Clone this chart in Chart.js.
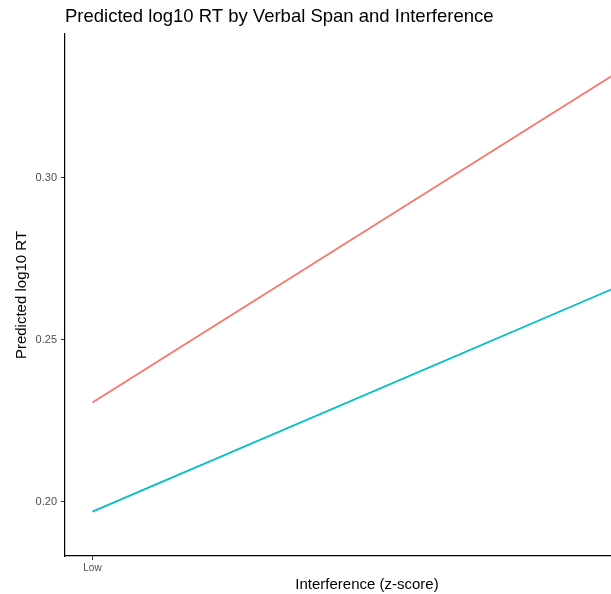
<!DOCTYPE html>
<html>
<head>
<meta charset="utf-8">
<script src="https://cdn.jsdelivr.net/npm/chart.js@4"></script>
<style>
    html, body { margin: 0; padding: 0; background: #fff; overflow: hidden; }
    /* the reference is cropped on the right, so the chart is wider than the window */
    #wrap { width: 680px; height: 594px; position: relative; }
</style>
</head>
<body>
<div id="wrap"><canvas id="lineChart"></canvas></div>
<script>
// interference in z-score units, Low = -1 SD, High = +1 SD
const interference = [-1, 1];
const xTickValues = [-1, 1];
const xTickLabels = ['Low', 'High'];
const yTickValues = [0.20, 0.25, 0.30];

// predicted log10 RT per verbal span group
const spanGroups = ['Low', 'High'];
const lowSpanRT = [0.2306, 0.3372];
const highSpanRT = [0.1969, 0.2695];

const fontFamily = '"Liberation Sans", Arial, Helvetica, sans-serif';

function toPoints(values) {
    return interference.map((x, i) => ({ x: x, y: values[i] }));
}

const ctx = document.getElementById('lineChart');

new Chart(ctx, {
    type: 'line',
    data: {
        datasets: [
            {
                label: spanGroups[0],
                data: toPoints(lowSpanRT),
                borderColor: '#F8766D',
                borderWidth: 1.8,
                pointRadius: 0,
                tension: 0,
            },
            {
                label: spanGroups[1],
                data: toPoints(highSpanRT),
                borderColor: '#00BFC4',
                borderWidth: 1.8,
                pointRadius: 0,
                tension: 0,
            },
        ],
    },
    options: {
        responsive: true,
        maintainAspectRatio: false,
        animation: false,
        devicePixelRatio: 1,
        layout: {
            padding: { left: 0, right: 11, top: 0, bottom: 0 },
        },
        scales: {
            x: {
                type: 'linear',
                min: -1.1,
                max: 1.1,
                afterBuildTicks: (scale) => {
                    scale.ticks = xTickValues.map(v => ({ value: v }));
                },
                afterFit: (scale) => {
                    scale.height = 38;
                },
                ticks: {
                    autoSkip: false,
                    maxRotation: 0,
                    padding: 2,
                    color: '#4D4D4D',
                    font: { family: fontFamily, size: 10 },
                    callback: (value) => xTickLabels[xTickValues.indexOf(value)],
                },
                grid: {
                    drawOnChartArea: false,
                    drawTicks: true,
                    tickLength: 4,
                    color: '#333',
                },
                border: { display: true, color: '#000', width: 1.2 },
                title: {
                    display: true,
                    text: 'Interference (z-score)',
                    color: '#000',
                    font: { family: fontFamily, size: 15 },
                    padding: { top: 0, bottom: 0 },
                },
            },
            y: {
                min: 0.1832,
                max: 0.3444,
                afterBuildTicks: (scale) => {
                    scale.ticks = yTickValues.map(v => ({ value: v }));
                },
                afterFit: (scale) => {
                    scale.width = 65;
                },
                ticks: {
                    padding: 4,
                    color: '#4D4D4D',
                    font: { family: fontFamily, size: 11 },
                    callback: (value) => value.toFixed(2),
                },
                grid: {
                    drawOnChartArea: false,
                    drawTicks: true,
                    tickLength: 4,
                    color: '#333',
                },
                border: { display: true, color: '#000', width: 1.2 },
                title: {
                    display: true,
                    text: 'Predicted log10 RT',
                    color: '#000',
                    font: { family: fontFamily, size: 15 },
                    padding: { top: 13, bottom: 0 },
                },
            },
        },
        plugins: {
            title: {
                display: true,
                text: 'Predicted log10 RT by Verbal Span and Interference',
                align: 'start',
                fullSize: false,
                color: '#000',
                font: { family: fontFamily, size: 18.5, weight: 'normal' },
                padding: { top: 6, bottom: 5.8 },
            },
            legend: { display: false },
            tooltip: { enabled: false },
        },
    },
});
</script>
</body>
</html>
